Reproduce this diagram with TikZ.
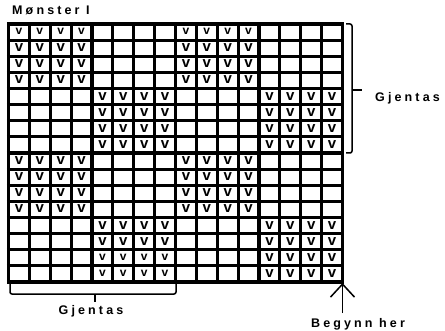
\documentclass[tikz,border=0pt]{standalone}
\usepackage{fontspec}
\setmainfont{Liberation Sans}
\newfontfamily\spacedfont{Liberation Sans}[LetterSpace=25]
\usetikzlibrary{arrows.meta}
\begin{document}
\begin{tikzpicture}[x=1pt,y=1pt,
  gridline/.style={line width=3.2pt},
  bracket/.style={line width=1.5pt, rounded corners=2pt},
  vbig/.style={inner sep=0pt, font=\fontsize{15}{15}\selectfont\bfseries},
  vsmall/.style={inner sep=0pt, font=\fontsize{12}{12}\selectfont\bfseries},
  lbl/.style={inner sep=0pt, font=\fontsize{12.5}{13}\spacedfont\bfseries}]
\useasboundingbox (0,0) rectangle (445,330);
% grid
\foreach \c in {0,...,16}{
  \draw[gridline] ({8.5+\c*20.875},{306+1.6}) -- ({8.5+\c*20.875},{48-1.6});
}
\foreach \r in {0,...,16}{
  \draw[gridline] (8.5-1.6,{306-\r*16.125}) -- (342.5+1.6,{306-\r*16.125});
}
% v marks
\foreach \r in {1,...,16}{
  \foreach \c in {1,...,16}{
    \pgfmathtruncatemacro\rb{mod(int((\r-1)/4),2)}
    \pgfmathtruncatemacro\cb{mod(int((\c-1)/4),2)}
    \ifnum\rb=\cb
      \pgfmathtruncatemacro\issmall{(\r==1) || ((\r>14) && (\c>4) && (\c<9))}
      \ifnum\issmall=1
        \node[vsmall] (v-\r-\c) at ({8.5+(\c-0.5)*20.875},{306-(\r-0.5)*16.125+0.5}) {v};
      \else
        \node[vbig] (v-\r-\c) at ({8.5+(\c-0.5)*20.875},{306-(\r-0.5)*16.125+0.5}) {v};
      \fi
    \fi
  }
}
% labels
\node[lbl, anchor=base west] (title) at (12,315) {Mønster I};
\node[lbl, anchor=base west] (gright) at (375,228) {Gjentas};
\node[lbl, anchor=base] (gbottom) at (91,16) {Gjentas};
\node[lbl, anchor=base] (begin) at (358,3) {Begynn her};
% right bracket
\draw[bracket] (346,306) -- (352,306) -- (352,177) -- (346,177);
\draw[bracket] (352,240) -- (362,240);
% bottom bracket
\draw[bracket] (10,46) -- (10,36) -- (176,36) -- (176,46);
\draw[bracket] (95,36) -- (95,28);
% arrow
\coordinate (corner) at (342.5,47);
\coordinate (astart) at (342.5,17);
\draw[line width=1.5pt, -{Straight Barb[length=13pt,width=24pt,line width=1.5pt]}] (astart) -- (corner);
\end{tikzpicture}
\end{document}
